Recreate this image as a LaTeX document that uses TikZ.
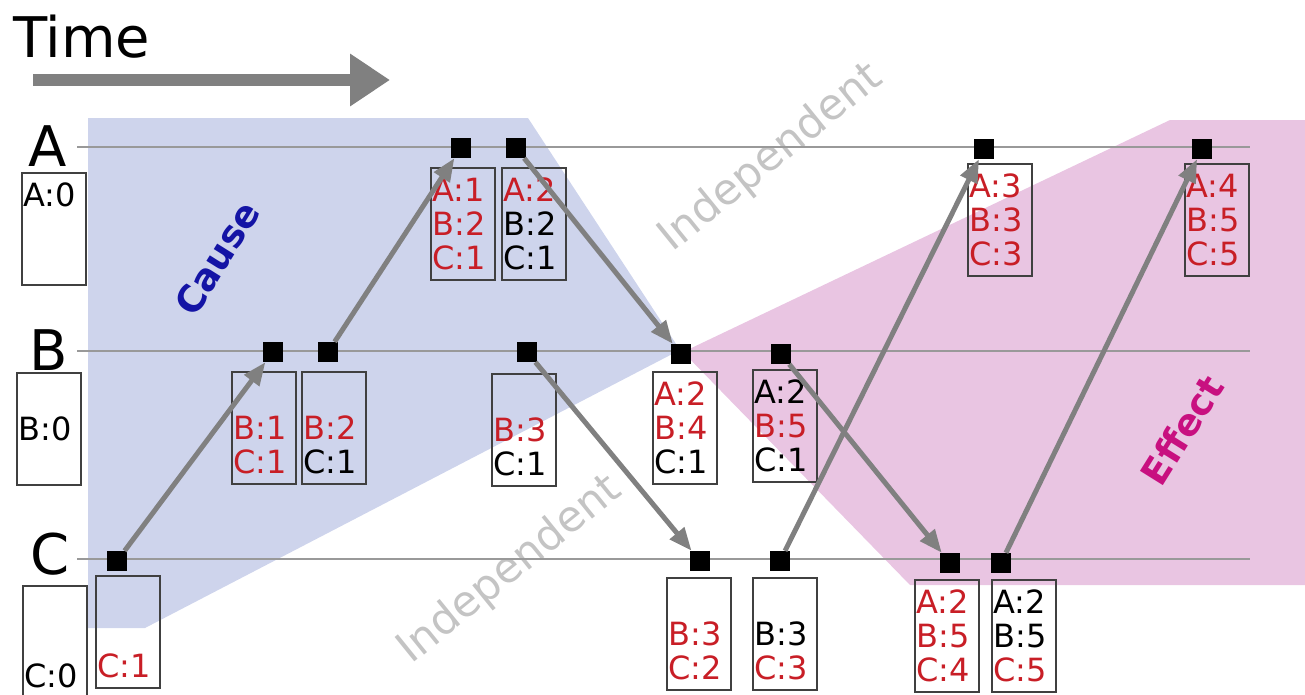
\documentclass[tikz,border=0pt]{standalone}
\usepackage{fontspec}
\setmainfont{DejaVu Sans}
\usetikzlibrary{arrows.meta}

\definecolor{causeblue}{RGB}{206,212,236}
\definecolor{effectpink}{RGB}{233,197,226}
\definecolor{vcred}{RGB}{200,30,38}
\definecolor{causetext}{RGB}{20,20,165}
\definecolor{effecttext}{RGB}{200,16,128}
\definecolor{indtext}{RGB}{196,196,196}

\newcommand{\vstrut}{\rule[-6pt]{0pt}{34pt}}
\newcommand{\upd}[1]{\vstrut\textcolor{vcred}{#1}}
\newcommand{\kept}[1]{\vstrut#1}

\tikzset{
  event/.style={fill=black, minimum size=20pt, inner sep=0pt},
  vclock/.style={draw=black!75, line width=1.2pt, text width=61pt, minimum height=112pt,
    inner xsep=1.5pt, inner ysep=0pt, align=left, font=\fontsize{32}{34}\selectfont},
  msg/.style={draw=black!50, line width=5pt, -{Triangle[length=23pt,width=18pt]}},
  timearrow/.style={draw=black!50, line width=12pt, -{Triangle[length=40pt,width=50pt]}},
  timeline/.style={draw=black!40, line width=2pt},
  proc/.style={font=\fontsize{56}{60}\selectfont, inner sep=0pt},
  regionlabel/.style={font=\fontsize{37}{40}\selectfont\bfseries, rotate=58},
  indep/.style={text=indtext, font=\fontsize{43}{48}\selectfont, rotate=39},
}

\begin{document}
\begin{tikzpicture}[x=1pt, y=-1pt]
\clip (0,0) rectangle (1305,694);

% shaded regions
\fill[causeblue] (88,118) -- (528,118) -- (680,350) -- (145,628) -- (88,628) -- cycle;
\fill[effectpink] (683,352) -- (1170,120) -- (1305,120) -- (1305,585) -- (910,585) -- cycle;

\node (cause) at (217,258) [regionlabel, text=causetext] {Cause};
\node (effect) at (1182,430) [regionlabel, text=effecttext] {Effect};
\node (ind1) at (771,158) [indep] {Independent};
\node (ind2) at (510,570) [indep] {Independent};

% time
\node (time) at (13,57) [anchor=base west, inner sep=0pt, font=\fontsize{56}{60}\selectfont] {Time};
\coordinate (t0) at (33,80);
\coordinate (t1) at (390,80);
\draw [timearrow] (t0) -- (t1);

% processes
\node (PA) at (48,146) [proc] {A};
\node (PB) at (49,350) [proc] {B};
\node (PC) at (50,554) [proc] {C};

\coordinate (al) at (77,147);
\coordinate (ar) at (1250,147);
\coordinate (bl) at (77,351);
\coordinate (br) at (1250,351);
\coordinate (cl) at (77,559);
\coordinate (cr) at (1250,559);
\draw [timeline] (al) -- (ar);
\draw [timeline] (bl) -- (br);
\draw [timeline] (cl) -- (cr);

% events
\node (A1) at (461,148) [event] {};
\node (A2) at (516,148) [event] {};
\node (A3) at (984,149) [event] {};
\node (A4) at (1202,149) [event] {};
\node (B1) at (273,352) [event] {};
\node (B2) at (328,352) [event] {};
\node (B3) at (527,352) [event] {};
\node (B4) at (681,354) [event] {};
\node (B5) at (781,354) [event] {};
\node (C1) at (117,561) [event] {};
\node (C2) at (700,561) [event] {};
\node (C3) at (780,561) [event] {};
\node (C4) at (950,563) [event] {};
\node (C5) at (1001,563) [event] {};

% vector clocks
\node (VA0) at (54,229) [vclock] {\kept{A:0}\\\vstrut\\\vstrut};
\node (VB0) at (49,429) [vclock] {\vstrut\\\kept{B:0}\\\vstrut};
\node (VC0) at (55,642) [vclock] {\vstrut\\\vstrut\\\kept{C:0}};
\node (VC1) at (128,632) [vclock] {\vstrut\\\vstrut\\\upd{C:1}};
\node (VB1) at (264,428) [vclock] {\vstrut\\\upd{B:1}\\\upd{C:1}};
\node (VB2) at (334,428) [vclock] {\vstrut\\\upd{B:2}\\\kept{C:1}};
\node (VA1) at (463,224) [vclock] {\upd{A:1}\\\upd{B:2}\\\upd{C:1}};
\node (VA2) at (534,224) [vclock] {\upd{A:2}\\\kept{B:2}\\\kept{C:1}};
\node (VB3) at (524,430) [vclock] {\vstrut\\\upd{B:3}\\\kept{C:1}};
\node (VB4) at (685,428) [vclock] {\upd{A:2}\\\upd{B:4}\\\kept{C:1}};
\node (VC2) at (699,634) [vclock] {\vstrut\\\upd{B:3}\\\upd{C:2}};
\node (VB5) at (785,426) [vclock] {\kept{A:2}\\\upd{B:5}\\\kept{C:1}};
\node (VC3) at (785,634) [vclock] {\vstrut\\\kept{B:3}\\\upd{C:3}};
\node (VA3) at (1000,220) [vclock] {\upd{A:3}\\\upd{B:3}\\\upd{C:3}};
\node (VC4) at (947,636) [vclock] {\upd{A:2}\\\upd{B:5}\\\upd{C:4}};
\node (VC5) at (1024,636) [vclock] {\kept{A:2}\\\kept{B:5}\\\upd{C:5}};
\node (VA4) at (1217,220) [vclock] {\upd{A:4}\\\upd{B:5}\\\upd{C:5}};

% messages
\draw [msg] (C1) -- (B1);
\draw [msg] (B2) -- (A1);
\draw [msg] (A2) -- (B4);
\draw [msg] (B3) -- (C2);
\draw [msg] (C3) -- (A3);
\draw [msg] (B5) -- (C4);
\draw [msg] (C5) -- (A4);

\end{tikzpicture}
\end{document}
